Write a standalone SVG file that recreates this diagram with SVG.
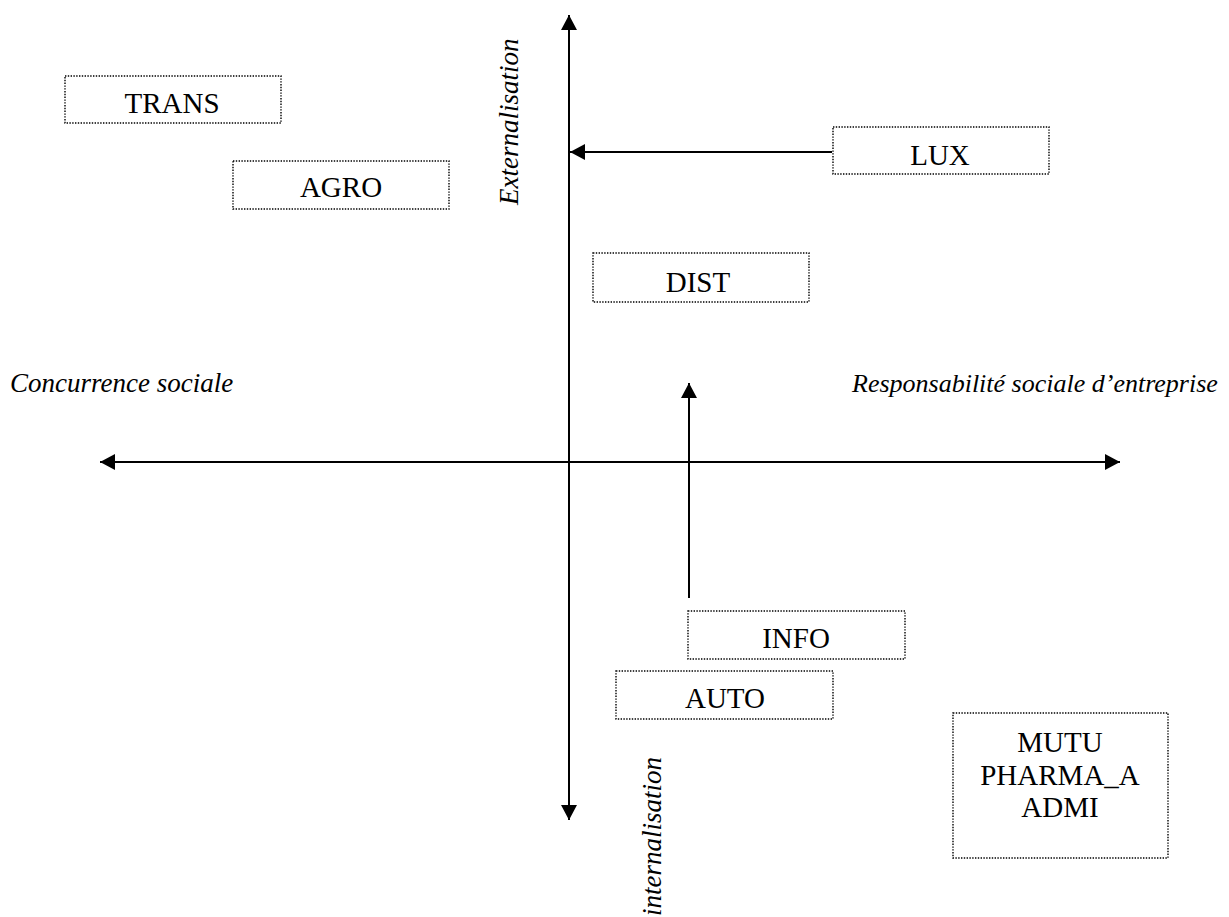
<svg xmlns="http://www.w3.org/2000/svg" width="1229" height="917" viewBox="0 0 1229 917">
<style>
.box{fill:#fff;stroke:#000;stroke-width:1.4;stroke-dasharray:1.4 1.4}
text{font-family:'Liberation Serif','Times New Roman','DejaVu Serif',serif;fill:#000}
.t{font-size:29px;text-anchor:middle}
.it{font-size:27px;font-style:italic}
.ln{stroke:#000;stroke-width:2;fill:none}
</style>
<defs>
<marker id="ah" markerUnits="userSpaceOnUse" markerWidth="16" markerHeight="16" viewBox="0 0 16 16" refX="15" refY="8" orient="auto-start-reverse">
<path d="M0,0 L15,8 L0,16 z" fill="#000"/>
</marker>
</defs>
<rect width="1229" height="917" fill="#fff"/>
<g id="connectors">
<line class="ln" x1="569" y1="820" x2="569" y2="15" marker-start="url(#ah)" marker-end="url(#ah)"/>
<line class="ln" x1="100" y1="462" x2="1120" y2="462" marker-start="url(#ah)" marker-end="url(#ah)"/>
<line class="ln" x1="832" y1="152" x2="570" y2="152" marker-end="url(#ah)"/>
<line class="ln" x1="689" y1="598" x2="689" y2="383" marker-end="url(#ah)"/>
</g>
<g id="axis-labels">
<text class="it" x="10" y="392">Concurrence sociale</text>
<text class="it" x="852" y="392" style="font-size:26px">Responsabilité sociale d’entreprise</text>
<text class="it" transform="translate(518,205) rotate(-90)">Externalisation</text>
<text class="it" transform="translate(661,916) rotate(-90)">internalisation</text>
</g>
<g id="trans"><rect class="box" x="65" y="76" width="216" height="47"/><text class="t" x="172" y="113">TRANS</text></g>
<g id="agro"><rect class="box" x="233" y="161" width="216" height="48"/><text class="t" x="341" y="197">AGRO</text></g>
<g id="lux"><rect class="box" x="833" y="127" width="216" height="47"/><text class="t" x="940" y="165">LUX</text></g>
<g id="dist"><rect class="box" x="593" y="253" width="216" height="49"/><text class="t" x="698" y="292">DIST</text></g>
<g id="info"><rect class="box" x="688" y="611" width="217" height="48"/><text class="t" x="796" y="648">INFO</text></g>
<g id="auto"><rect class="box" x="616" y="671" width="217" height="48"/><text class="t" x="725" y="708">AUTO</text></g>
<g id="mutu"><rect class="box" x="953" y="713" width="215" height="145"/>
<text class="t" x="1060" y="752">MUTU</text>
<text class="t" x="1060" y="785">PHARMA_A</text>
<text class="t" x="1060" y="817">ADMI</text></g>
</svg>
